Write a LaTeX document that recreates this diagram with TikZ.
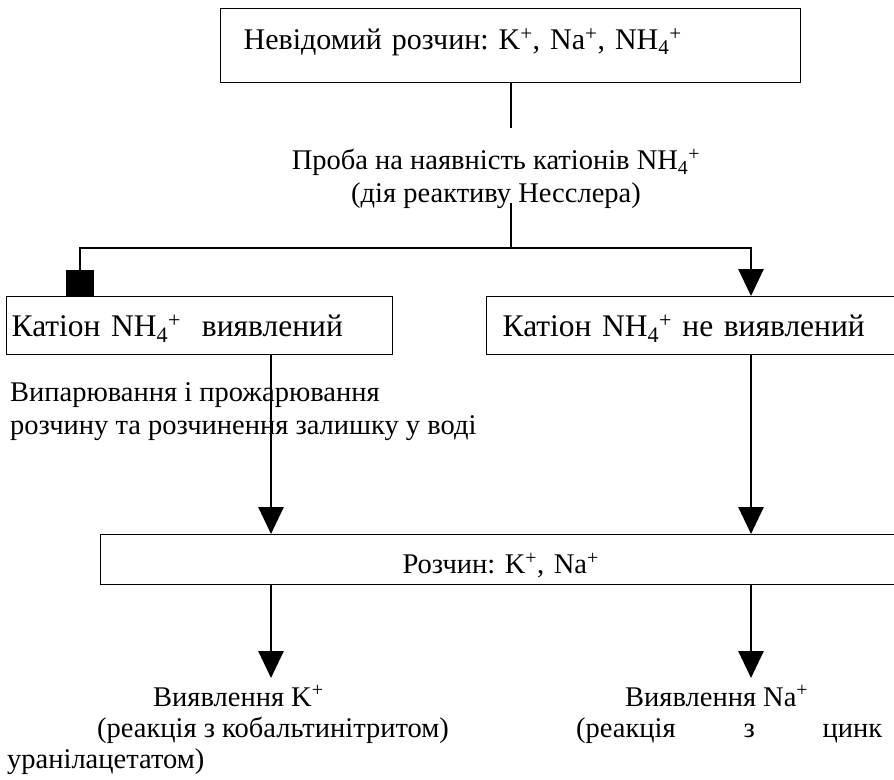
\documentclass[tikz,border=0pt]{standalone}
\usepackage{fontspec}
\setmainfont{Liberation Serif}
\usetikzlibrary{arrows.meta}

\begin{document}
\begin{tikzpicture}[x=1pt,y=-1pt,
    font=\frenchspacing\fontsize{28.5}{33}\selectfont,
    box/.style={draw, line width=1.3pt, inner ysep=0pt, anchor=north west, align=left},
    bigtext/.style={font=\frenchspacing\fontsize{31.5}{36}\selectfont},
    toptext/.style={font=\frenchspacing\fontsize{30}{35}\selectfont},
    conn/.style={line width=2.8pt},
    arr/.style={conn, -{Triangle[length=27pt,width=25pt]}},
    blk/.style={conn, -{Square[length=26pt,width=28pt]}},
    txt/.style={inner sep=0pt, anchor=base west}]
  \useasboundingbox (0,0) rectangle (894,779);
  % boxes
  \node[box, toptext, minimum width=580pt, minimum height=74pt, text width=534pt, inner xsep=23pt,
        text height=21pt, text depth=13pt] (unknown) at (220,8)
        {Невідомий розчин: K\textsuperscript{+}, Na\textsuperscript{+}, NH\textsubscript{4}\textsuperscript{+}};
  \node[box, bigtext, minimum width=386pt, minimum height=58pt, text width=376pt, inner xsep=5pt,
        text height=22pt, text depth=0pt] (found) at (6,296)
        {Катіон NH\textsubscript{4}\textsuperscript{+}\ \ виявлений};
  \node[box, bigtext, minimum width=414pt, minimum height=58pt, text width=382pt, inner xsep=16pt,
        text height=22pt, text depth=0pt] (notfound) at (486,296)
        {Катіон NH\textsubscript{4}\textsuperscript{+} не виявлений};
  \node[box, align=center, minimum width=800pt, minimum height=50pt, text width=786pt, inner xsep=7pt,
        text height=28pt, text depth=0pt] (sol) at (100,534)
        {Розчин: K\textsuperscript{+}, Na\textsuperscript{+}};
  % labels
  \node[align=center, inner sep=0pt, anchor=north] (test) at (496,149)
        {Проба на наявність катіонів NH\textsubscript{4}\textsuperscript{+}\\(дія реактиву Несслера)};
  \node[align=left, inner sep=0pt, anchor=north west] (evap) at (10,382)
        {Випарювання і прожарювання\\розчину та розчинення залишку у воді};
  \node[txt] (kdet) at (153,706) {Виявлення K\textsuperscript{+}};
  \node[txt] (kreac) at (97,737) {(реакція з кобальтинітритом)};
  \node[txt] (urac) at (7,768) {уранілацетатом)};
  \node[txt] (nadet) at (625,706) {Виявлення Na\textsuperscript{+}};
  \node[txt] (nareac) at (576,737) {\makebox[306pt][s]{(реакція з цинк}};
  % connectors
  \coordinate (split) at (511,248);
  \coordinate (t1) at (511,128);
  \coordinate (t2) at (511,203);
  \coordinate (lft) at (80,248);
  \coordinate (rgt) at (751,248);
  \coordinate (kx) at (271,0);
  \coordinate (kend) at (271,678);
  \coordinate (naend) at (751,678);
  \draw[conn] (unknown.south -| split) -- (t1);
  \draw[conn] (t2) -- (split);
  \draw[blk] (split) -| (found.north -| lft);
  \draw[arr] (split) -| (notfound.north -| rgt);
  \draw[arr] (found.south -| kx) -- (sol.north -| kx);
  \draw[arr] (notfound.south -| rgt) -- (sol.north -| rgt);
  \draw[arr] (sol.south -| kx) -- (kend);
  \draw[arr] (sol.south -| rgt) -- (naend);
\end{tikzpicture}
\end{document}
